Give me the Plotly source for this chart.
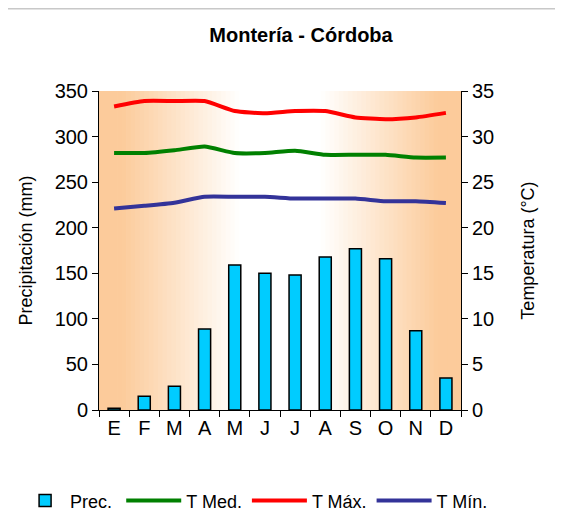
import plotly.graph_objects as go

# Climate data for Montería - Córdoba
months = ["E", "F", "M", "A", "M ", "J", "J ", "A ", "S", "O", "N", "D"]
month_labels = ["E", "F", "M", "A", "M", "J", "J", "A", "S", "O", "N", "D"]
prec_mm = [2, 15, 26, 89, 159, 150, 148, 168, 177, 166, 87, 35]
t_med = [28.2, 28.2, 28.5, 28.9, 28.2, 28.2, 28.45, 28.0, 28.0, 28.0, 27.7, 27.7]
t_max = [33.3, 33.9, 33.9, 33.9, 32.8, 32.55, 32.8, 32.8, 32.1, 31.9, 32.1, 32.6]
t_min = [22.1, 22.4, 22.75, 23.4, 23.4, 23.4, 23.2, 23.2, 23.2, 22.9, 22.9, 22.7]

FONT = "Liberation Sans, Arial, sans-serif"

fig = go.Figure()

# Precipitation bars
fig.add_trace(go.Bar(
    x=months, y=prec_mm, name="Prec.",
    marker=dict(color="#00CCFF", line=dict(color="black", width=1.5)),
    width=0.4, legend="legend",
))

# Temperature lines on the secondary axis
for name, vals, color in [("T Med.", t_med, "#008000"),
                          ("T Máx.", t_max, "#FF0000"),
                          ("T Mín.", t_min, "#333399")]:
    fig.add_trace(go.Scatter(
        x=months, y=vals, name=name, yaxis="y2", mode="lines",
        line=dict(color=color, width=4, shape="spline", smoothing=0.5),
        legend="legend2",
    ))

# Horizontal orange -> white -> orange background gradient
shapes = []
n = 80
edge = (252, 203, 155)
for i in range(n):
    x0, x1 = i / n, (i + 1) / n
    t = abs((x0 + x1) / 2 - 0.5) / 0.5
    k = min(max((t - 0.22) / 0.65, 0), 1)
    c = tuple(round(255 + (e - 255) * k) for e in edge)
    shapes.append(dict(type="rect", xref="paper", yref="paper",
                       x0=x0, x1=x1 + 0.002, y0=0, y1=1, layer="below",
                       line=dict(width=0), fillcolor=f"rgb{c}"))
# thin gray line at the top of the page
shapes.append(dict(type="line", xref="paper", yref="paper",
                   x0=-0.26, x1=1.3, y0=1.258, y1=1.258,
                   line=dict(color="#C8C8C8", width=1.5)))

legend_common = dict(orientation="h", y=-0.285, yanchor="middle",
                     font=dict(size=18), tracegroupgap=0, bgcolor="rgba(0,0,0,0)")

fig.update_layout(
    width=555, height=520,
    margin=dict(l=91, r=102, t=83, b=118, autoexpand=False),
    paper_bgcolor="white", plot_bgcolor="white",
    font=dict(family=FONT, size=18, color="black"),
    title=dict(text="<b>Montería - Córdoba</b>", x=0.528, xanchor="center",
               y=0.948, yanchor="middle", font=dict(size=20)),
    shapes=shapes,
    showlegend=True,
    legend=dict(x=-0.218, xanchor="left", itemwidth=40, **legend_common),
    legend2=dict(x=1.089, xanchor="right", itemwidth=55, **legend_common),
    xaxis=dict(tickvals=months, ticktext=month_labels, tickson="boundaries",
               ticks="outside", ticklen=6, tickcolor="black",
               showline=True, linecolor="black", linewidth=1,
               showgrid=False, tickfont=dict(size=20)),
    yaxis=dict(range=[0, 350], dtick=50, ticks="outside", ticklen=6, tickcolor="black",
               showline=True, linecolor="black", linewidth=1, showgrid=False,
               zeroline=False, tickfont=dict(size=20),
               title=dict(text="Precipitación (mm)", font=dict(size=18), standoff=17)),
    yaxis2=dict(range=[0, 35], dtick=5, overlaying="y", side="right",
                ticks="outside", ticklen=6, tickcolor="black",
                showline=True, linecolor="black", linewidth=1, showgrid=False,
                zeroline=False, tickfont=dict(size=20),
                title=dict(text="Temperatura (°C)", font=dict(size=18), standoff=28)),
)

fig.write_html("out.html")
